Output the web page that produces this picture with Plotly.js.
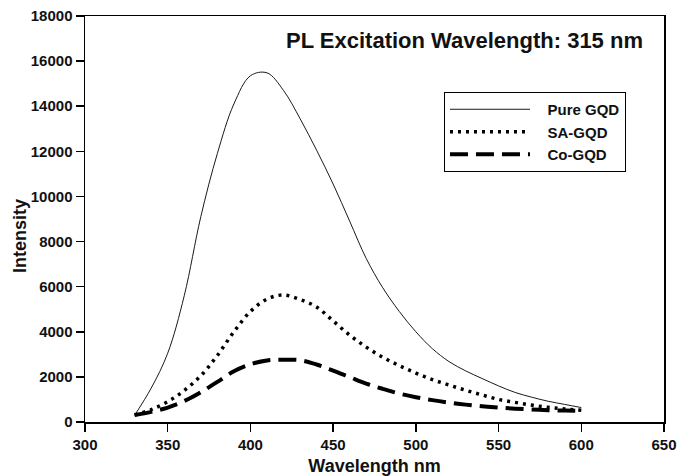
<!DOCTYPE html>
<html>
<head>
<meta charset="utf-8">
<script src="https://cdn.plot.ly/plotly-3.0.1.min.js"></script>
<style>html,body{margin:0;padding:0;background:#fff;}#chart{width:678px;height:476px;}</style>
</head>
<body>
<div id="chart"></div>
<script>
const wavelength = [330,340,350,360,370,380,390,400,410,420,430,440,450,460,470,480,490,500,510,520,530,540,550,560,570,580,590,600];
const pureGQD = [300,1500,3050,5600,9100,11900,14100,15350,15480,14700,13450,12050,10550,8900,7250,5950,4900,4000,3250,2680,2270,1930,1600,1310,1100,920,780,640];
const saGQD   = [310,550,900,1400,2050,2950,4000,4900,5450,5630,5430,5100,4480,3850,3320,2870,2500,2170,1880,1640,1410,1200,1000,870,750,650,580,520];
const coGQD   = [310,450,640,930,1320,1780,2250,2560,2730,2760,2740,2550,2280,1990,1700,1470,1260,1100,970,860,770,700,640,590,555,525,505,490];
const seriesNames = ["Pure GQD","SA-GQD","Co-GQD"];
const xTicks = [300,350,400,450,500,550,600,650];
const yTicks = [0,2000,4000,6000,8000,10000,12000,14000,16000,18000];
const yTickText = yTicks.map(String);
const xTickText = xTicks.map(String);

const fam = "Arial, 'Liberation Sans', sans-serif";
const pad = '\u00a0\u00a0\u00a0';
const traces = [
  {x: wavelength, y: pureGQD, name: pad + seriesNames[0], mode: 'lines', line: {color: '#1a1a1a', width: 1, shape: 'spline'}},
  {x: wavelength, y: saGQD, name: pad + seriesNames[1], mode: 'lines', line: {color: '#000', width: 3.5, dash: '3px,5px', shape: 'spline'}},
  {x: wavelength, y: coGQD, name: pad + seriesNames[2], mode: 'lines', line: {color: '#000', width: 4, dash: '18px,8px', shape: 'spline'}}
];
const axisCommon = {
  showline: true, mirror: true, linecolor: '#000', linewidth: 1.5,
  ticks: 'outside', ticklen: 8, tickwidth: 1.5, tickcolor: '#000',
  showgrid: false, zeroline: false, ticklabeloverflow: 'allow',
  tickfont: {family: fam, size: 15, weight: 'bold', color: '#111'}
};
const layout = {
  width: 678, height: 476,
  margin: {l: 85, r: 14, t: 16, b: 54},
  paper_bgcolor: '#fff', plot_bgcolor: '#fff',
  showlegend: true,
  title: {text: 'PL Excitation Wavelength: 315 nm', font: {family: fam, size: 22, weight: 'bold', color: '#111'},
          xref: 'paper', yref: 'paper', x: 0.9637, xanchor: 'right', y: 0.941, yanchor: 'middle'},
  xaxis: Object.assign({}, axisCommon, {range: [300,650], tickmode: 'array', tickvals: xTicks, ticktext: xTickText,
          title: {text: 'Wavelength nm', font: {family: fam, size: 18, weight: 'bold', color: '#111'}, standoff: 9}}),
  yaxis: Object.assign({}, axisCommon, {range: [0,18000], tickmode: 'array', tickvals: yTicks, ticktext: yTickText}),
  annotations: [{text: 'Intensity', textangle: -90, xref: 'paper', yref: 'paper', x: -0.1123, y: 0.458,
                 xanchor: 'center', yanchor: 'middle', showarrow: false,
                 font: {family: fam, size: 18, weight: 'bold', color: '#111'}}],
  legend: {x: 0.620, y: 0.8128, xanchor: 'left', yanchor: 'top', bordercolor: '#000', borderwidth: 1,
           bgcolor: '#fff', itemwidth: 80, font: {family: fam, size: 15, weight: 'bold', color: '#111'}}
};
Plotly.newPlot('chart', traces, layout, {displayModeBar: false, staticPlot: true});
</script>
</body>
</html>
